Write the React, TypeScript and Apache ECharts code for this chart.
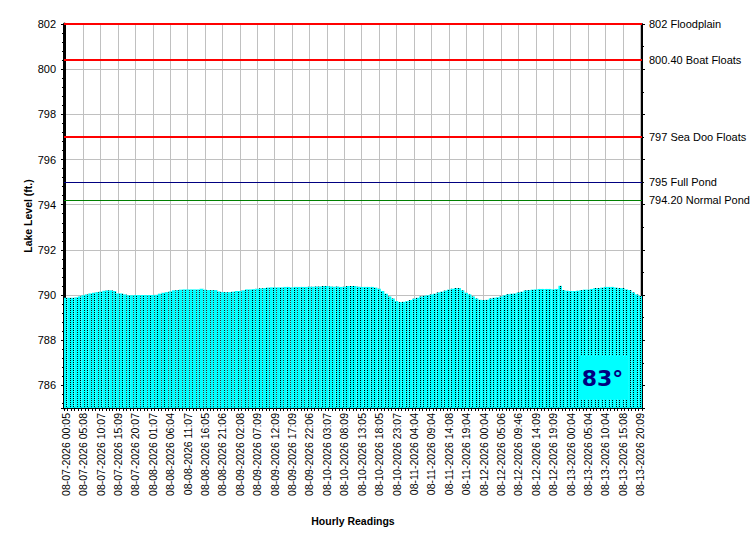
import React, { useEffect, useRef } from "react";
import * as echarts from "echarts";

const tickLabels = [
  "08-07-2026 00:05", "08-07-2026 05:08", "08-07-2026 10:07", "08-07-2026 15:09", "08-07-2026 20:07",
  "08-08-2026 01:07", "08-08-2026 06:04", "08-08-2026 11:07", "08-08-2026 16:05", "08-08-2026 21:06",
  "08-09-2026 02:08", "08-09-2026 07:09", "08-09-2026 12:09", "08-09-2026 17:09", "08-09-2026 22:06",
  "08-10-2026 03:07", "08-10-2026 08:09", "08-10-2026 13:05", "08-10-2026 18:05", "08-10-2026 23:07",
  "08-11-2026 04:04", "08-11-2026 09:04", "08-11-2026 14:08", "08-11-2026 19:04",
  "08-12-2026 00:04", "08-12-2026 05:06", "08-12-2026 09:46", "08-12-2026 14:09", "08-12-2026 19:09",
  "08-13-2026 00:04", "08-13-2026 05:04", "08-13-2026 10:04", "08-13-2026 15:08", "08-13-2026 20:09",
];

const levels = [
  789.88, 789.88, 789.88, 789.90, 789.94, 789.99, 790.03, 790.07, 790.10, 790.13,
  790.15, 790.19, 790.21, 790.21, 790.18, 790.07, 790.07, 790.03, 789.99, 789.99,
  790.00, 790.00, 790.00, 790.00, 790.00, 790.00, 790.01, 790.06, 790.10, 790.13,
  790.16, 790.21, 790.22, 790.24, 790.25, 790.25, 790.25, 790.25, 790.25, 790.28,
  790.24, 790.22, 790.22, 790.22, 790.16, 790.13, 790.13, 790.13, 790.15, 790.18,
  790.18, 790.21, 790.25, 790.25, 790.26, 790.28, 790.30, 790.31, 790.33, 790.34,
  790.34, 790.34, 790.34, 790.36, 790.36, 790.34, 790.36, 790.36, 790.36, 790.36,
  790.37, 790.37, 790.38, 790.38, 790.40, 790.40, 790.38, 790.37, 790.38, 790.36,
  790.37, 790.40, 790.40, 790.40, 790.37, 790.36, 790.36, 790.36, 790.36, 790.33,
  790.28, 790.18, 790.06, 789.94, 789.85, 789.73, 789.69, 789.70, 789.73, 789.78,
  789.84, 789.88, 789.94, 789.97, 789.99, 790.03, 790.06, 790.12, 790.15, 790.20,
  790.24, 790.28, 790.31, 790.31, 790.21, 790.10, 790.03, 789.94, 789.85, 789.79,
  789.78, 789.79, 789.85, 789.88, 789.90, 789.94, 789.99, 790.04, 790.06, 790.07,
  790.12, 790.15, 790.21, 790.22, 790.24, 790.25, 790.27, 790.27, 790.27, 790.27,
  790.25, 790.27, 790.41, 790.22, 790.19, 790.18, 790.18, 790.19, 790.22, 790.24,
  790.24, 790.27, 790.31, 790.31, 790.33, 790.36, 790.36, 790.36, 790.33, 790.31,
  790.31, 790.25, 790.22, 790.12, 790.03, 789.96,
];

const refValues = [802, 800.4, 797, 795, 794.2];
const refNames = ["802 Floodplain", "800.40 Boat Floats", "797 Sea Doo Floats", "795 Full Pond", "794.20 Normal Pond"];
const refColors = ["#FF0000", "#FF0000", "#FF0000", "#000080", "#008000"];
const refWidths = [2, 2, 2, 1, 1];

const waterTemp = "83°";
const yMin = 785;
const yMax = 802;

const FONT = "'Liberation Sans', Arial, sans-serif";

function makeDotTile(): HTMLCanvasElement {
  const tile = document.createElement("canvas");
  tile.width = 7;
  tile.height = 2;
  const ctx = tile.getContext("2d")!;
  ctx.fillStyle = "#00FFFF";
  ctx.fillRect(0, 0, 7, 2);
  ctx.fillStyle = "#000000";
  ctx.fillRect(0, 0, 1, 1);
  ctx.fillRect(3, 0, 1, 1);
  return tile;
}

export default function App() {
  const ref = useRef<HTMLDivElement>(null);

  useEffect(() => {
    if (!ref.current) return;
    const chart = echarts.init(ref.current, undefined, { renderer: "svg" });
    const categories = levels.map((_, i) => String(i));
    const tile = makeDotTile();

    chart.setOption({
      animation: false,
      backgroundColor: "#FFFFFF",
      textStyle: { fontFamily: FONT, color: "#000" },
      grid: { left: 64, right: 108, top: 24, bottom: 142, containLabel: false },
      xAxis: {
        type: "category",
        data: categories,
        boundaryGap: true,
        axisLine: { show: true, lineStyle: { color: "#000", width: 2 } },
        axisTick: { show: true, interval: 0, length: 3, lineStyle: { color: "#000" } },
        axisLabel: {
          interval: 4,
          rotate: 90,
          fontSize: 10.5,
          color: "#000",
          margin: 5,
          fontFamily: FONT,
          formatter: (_v: string, idx: number) => (idx % 5 === 0 ? tickLabels[idx / 5] : ""),
        },
        splitLine: { show: true, interval: 4, alignWithLabel: true, lineStyle: { color: "#C0C0C0", width: 1 } },
        name: "Hourly Readings",
        nameLocation: "middle",
        nameGap: 107,
        nameTextStyle: { fontWeight: "bold", fontSize: 10.5, color: "#000", fontFamily: FONT },
      },
      yAxis: [
        {
          type: "value",
          min: yMin,
          max: yMax,
          minInterval: 2,
          maxInterval: 2,
          position: "left",
          axisLine: { show: true, lineStyle: { color: "#000", width: 3 } },
          axisTick: { show: true, length: 3, lineStyle: { color: "#000" } },
          minorTick: { show: true, splitNumber: 5, length: 2, lineStyle: { color: "#000" } },
          axisLabel: {
            fontSize: 11,
            color: "#000",
            margin: 8,
            fontFamily: FONT,
            formatter: (v: number) => (v === yMin ? "" : String(v)),
          },
          splitLine: { show: true, lineStyle: { color: "#C0C0C0", width: 1 } },
          name: "Lake Level (ft.)",
          nameLocation: "middle",
          nameGap: 31,
          nameMoveOverlap: false,
          nameRotate: 90,
          nameTextStyle: { fontWeight: "bold", fontSize: 10.5, color: "#000", fontFamily: FONT },
        },
        {
          type: "value",
          min: yMin,
          max: yMax,
          minInterval: 2,
          maxInterval: 2,
          position: "right",
          axisLine: { show: true, lineStyle: { color: "#000", width: 2 } },
          axisTick: { show: true, length: 3, lineStyle: { color: "#000" } },
          minorTick: { show: true, splitNumber: 2, length: 2, lineStyle: { color: "#000" } },
          axisLabel: { show: false },
          splitLine: { show: false },
        },
      ],
      series: [
        {
          type: "bar",
          xAxisIndex: 0,
          yAxisIndex: 0,
          data: levels,
          barCategoryGap: "0%",
          barGap: "0%",
          silent: true,
          itemStyle: {
            color: { image: tile, repeat: "repeat" },
            borderWidth: 0,
          },
          markLine: {
            silent: true,
            symbol: ["none", "none"],
            label: {
              show: true,
              position: "end",
              distance: 7,
              color: "#000",
              fontSize: 11,
              fontFamily: FONT,
            },
            data: refValues.map((v, i) => ({
              yAxis: v,
              lineStyle: { color: refColors[i], width: refWidths[i], type: "solid" },
              label: { formatter: refNames[i] },
            })),
          },
        },
      ],
      graphic: [
        {
          type: "rect",
          z: 100,
          shape: { x: 578, y: 356, width: 49, height: 43 },
          style: { fill: "#00FFFF" },
        },
        {
          type: "text",
          z: 101,
          x: 602.5,
          y: 378,
          style: {
            text: waterTemp,
            fill: "#000080",
            font: "bold 22px 'DejaVu Sans', Verdana, sans-serif",
            align: "center",
            verticalAlign: "middle",
          },
        },
      ],
    });

    return () => chart.dispose();
  }, []);

  return (
    <div
      ref={ref}
      style={{ position: "fixed", left: 0, top: 0, width: 750, height: 550, background: "#fff" }}
    />
  );
}
